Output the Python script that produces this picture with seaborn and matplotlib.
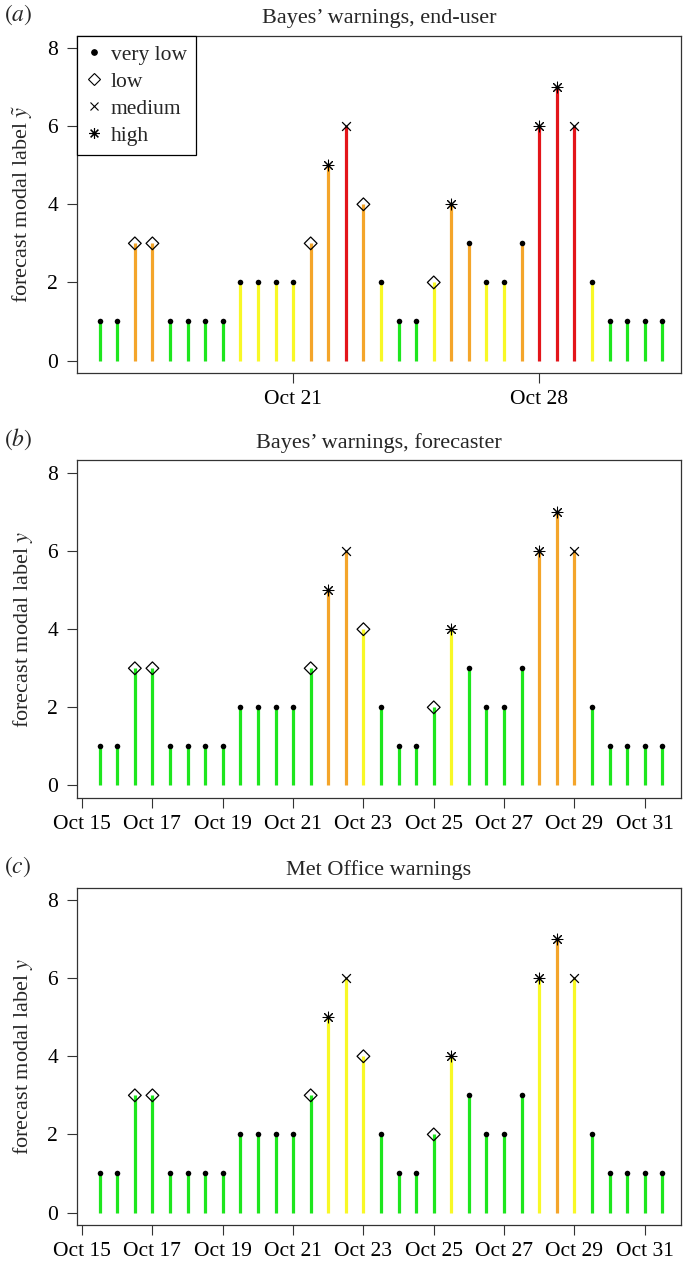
import seaborn as sns
import matplotlib.pyplot as plt
import matplotlib.dates as mdates
from matplotlib.lines import Line2D
import pandas as pd

# half-daily forecast times
times = pd.date_range("2013-10-15 12:00", periods=33, freq="12h")
modal = [1, 1, 3, 3, 1, 1, 1, 1, 2, 2, 2, 2, 3, 5, 6, 4, 2, 1, 1, 2, 4, 3, 2,
         2, 3, 6, 7, 6, 2, 1, 1, 1, 1]
likelihood = ["very low", "very low", "low", "low",
              "very low", "very low", "very low", "very low",
              "very low", "very low", "very low", "very low",
              "low", "high", "medium", "low",
              "very low", "very low", "very low", "low",
              "high", "very low", "very low", "very low",
              "very low", "high", "high", "medium",
              "very low", "very low", "very low", "very low", "very low"]
# warning colour per panel: G green, Y yellow, O orange, R red
warn_enduser = list("GGOOGGGGYYYYOOROYGGYOOYYORRRYGGGG")
warn_forecaster = list("GGGGGGGGGGGGGOOYGGGGYGGGGOOOGGGGG")
warn_metoffice = list("GGGGGGGGGGGGGYYYGGGGYGGGGYOYGGGGG")

titles = ["Bayes\u2019 warnings, end-user", "Bayes\u2019 warnings, forecaster",
          "Met Office warnings"]
panel_tags = ["a", "b", "c"]
ylabels = [r"forecast modal label $\tilde{y}$", r"forecast modal label $y$",
           r"forecast modal label $y$"]
tick_days = [[21, 28], [15, 17, 19, 21, 23, 25, 27, 29, 31],
             [15, 17, 19, 21, 23, 25, 27, 29, 31]]

palette = {"G": "#1ee61e", "Y": "#f8f826", "O": "#f4a52a", "R": "#e3151a"}
marker_style = {
    "very low": dict(marker="o", s=16, color="black", linewidths=0),
    "low": dict(marker="D", s=42, facecolors="none", edgecolors="black", linewidths=0.9),
    "medium": dict(marker="x", s=40, color="black", linewidths=0.9),
    "high": dict(marker=(8, 2, 0), s=60, color="black", linewidths=0.75),
}

sns.set_theme(style="ticks")
plt.rcParams['font.family'] = ['Liberation Serif', 'DejaVu Serif']
plt.rcParams['mathtext.fontset'] = 'stix'
plt.rcParams['font.size'] = 15

df = pd.DataFrame({"time": times, "modal": modal, "likelihood": likelihood})

fig = plt.figure(figsize=(6.86, 12.65), dpi=100)
bottoms = [0.7051, 0.3692, 0.0316]
for i, warn in enumerate([warn_enduser, warn_forecaster, warn_metoffice]):
    ax = fig.add_axes([0.1122, bottoms[i], 0.8805, 0.2668])
    ax.vlines(df["time"], 0, df["modal"], colors=[palette[w] for w in warn],
              linewidth=2.3, zorder=2)
    for lev, kw in marker_style.items():
        sub = df[df["likelihood"] == lev]
        sns.scatterplot(data=sub, x="time", y="modal", ax=ax, zorder=3,
                        legend=False, **kw)
    ax.set_xlim(pd.Timestamp("2013-10-14 20:30"), pd.Timestamp("2013-11-01 00:45"))
    ax.set_ylim(-0.32, 8.32)
    ax.set_yticks([0, 2, 4, 6, 8])
    ax.xaxis.set_major_locator(mdates.DayLocator(bymonthday=tick_days[i]))
    ax.xaxis.set_major_formatter(mdates.DateFormatter("%b %d"))
    ax.tick_params(axis="both", length=7.5, width=0.8, color="#333333",
                   labelsize=15.5, pad=5, labelcolor="black")
    ax.tick_params(axis="y", pad=6)
    for sp in ax.spines.values():
        sp.set_visible(True)
        sp.set_color("#333333")
        sp.set_linewidth(0.9)
    ax.set_xlabel("")
    ax.set_ylabel(ylabels[i], fontsize=16, labelpad=9)
    ax.set_title(titles[i], fontsize=16, pad=9)
    top = bottoms[i] + 0.2668
    fig.text(0.006, top + 0.0165, r"$(\mathit{%s})$" % panel_tags[i],
             fontsize=17, va="center", ha="left")
    if i == 0:
        handles = []
        for lev, kw in marker_style.items():
            mk = kw["marker"]
            face = "none" if lev == "low" else "black"
            ms = {"very low": 4, "low": 6.5, "medium": 6.3, "high": 7.7}[lev]
            handles.append(Line2D([], [], linestyle="none", marker=mk,
                                  markersize=ms, markerfacecolor=face,
                                  markeredgecolor="black", markeredgewidth=0.8,
                                  color="black", label=lev))
        leg = ax.legend(handles=handles, loc="upper left", borderaxespad=0,
                        fancybox=False, framealpha=1, edgecolor="black",
                        fontsize=15.5, handlelength=0.7, handletextpad=0.45,
                        labelspacing=0.32, borderpad=0.42)
        leg.get_frame().set_linewidth(0.9)

fig.savefig("out.png", dpi=100)
